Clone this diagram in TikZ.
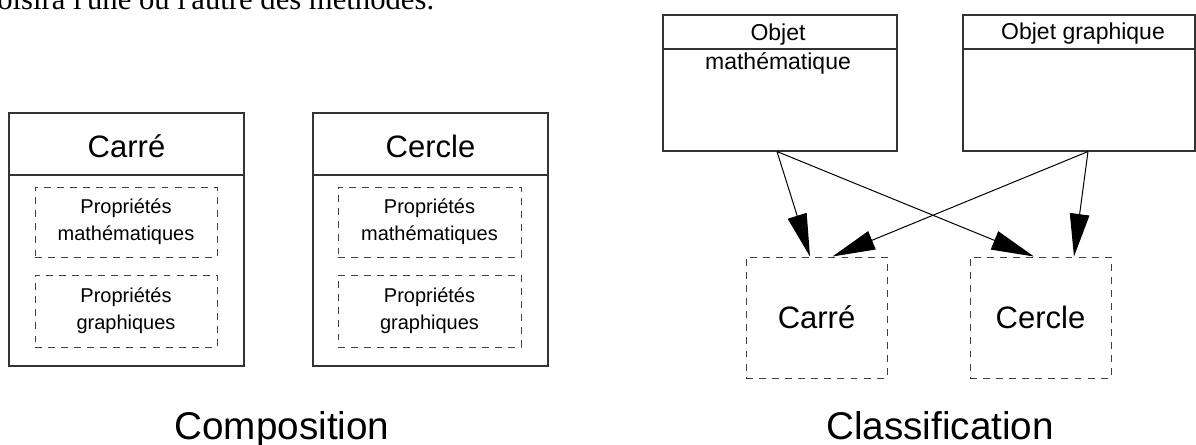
\documentclass[tikz,border=0pt]{standalone}
\usepackage{fontspec}
\setmainfont{Liberation Sans}
\newfontfamily\timesfont{Liberation Serif}
\usetikzlibrary{arrows.meta}
\begin{document}
\begin{tikzpicture}[x=0.75pt,y=-0.75pt,
  classbox/.style={draw=black!80, line width=0.8pt, inner sep=0pt, rectangle},
  propbox/.style={draw=black!75, line width=0.75pt, dash pattern=on 5.2pt off 4.6pt,
    inner sep=0pt, align=center, font=\fontsize{15}{20}\selectfont},
  headline/.style={draw=black!80, line width=0.8pt},
  title/.style={font=\fontsize{23.25}{28}\selectfont, inner sep=0pt, anchor=base},
  smalltitle/.style={font=\fontsize{17.25}{21}\selectfont, inner sep=0pt, anchor=base},
  caption/.style={font=\fontsize{29}{34}\selectfont, inner sep=0pt, anchor=base},
  inherit/.style={-{Triangle[length=32pt,width=14.7pt]}, line width=0.75pt, black},
]
\useasboundingbox (0,0) rectangle (1196,444);

% running text above the figures
\node[font=\timesfont\fontsize{23}{27}\selectfont, inner sep=0pt, anchor=base west]
  (intro) at (-3,9) {oisira l'une ou l'autre des méthodes.};

% ---- Composition ----
\node[classbox, minimum width=176.25pt, minimum height=189.75pt] (carre) at (126.5,239.5) {};
\draw[headline] (carre.west |- 0,175) -- (carre.east |- 0,175);
\node[title] (carret) at (126.5,157) {Carré};
\node[propbox, minimum width=136.5pt, minimum height=52.5pt] (carrem) at (126,222)
  {Propriétés\\mathématiques};
\node[propbox, minimum width=136.5pt, minimum height=54pt] (carreg) at (126,311)
  {Propriétés\\graphiques};

\node[classbox, minimum width=176.25pt, minimum height=189.75pt] (cercle) at (430.5,239.5) {};
\draw[headline] (cercle.west |- 0,175) -- (cercle.east |- 0,175);
\node[title] (cerclet) at (430.5,157) {Cercle};
\node[propbox, minimum width=137.25pt, minimum height=52.5pt] (cerclem) at (429.5,222)
  {Propriétés\\mathématiques};
\node[propbox, minimum width=137.25pt, minimum height=54pt] (cercleg) at (429.5,311)
  {Propriétés\\graphiques};

\node[caption] (compo) at (282,439) {Composition};

% ---- Classification ----
\node[classbox, minimum width=175.5pt, minimum height=102pt] (om) at (780,83) {};
\draw[headline] (om.west |- 0,49) -- (om.east |- 0,49);
\node[smalltitle] (omt1) at (778,40) {Objet};
\node[smalltitle] (omt2) at (778,69) {mathématique};

\node[classbox, minimum width=174pt, minimum height=102pt] (og) at (1079,83) {};
\draw[headline] (og.west |- 0,49) -- (og.east |- 0,49);
\node[smalltitle] (ogt) at (1083,39) {Objet graphique};

\node[propbox, font=\fontsize{23.25}{28}\selectfont,
  minimum width=105.75pt, minimum height=90.75pt] (carreb) at (816.5,317.5) {Carré};
\node[propbox, font=\fontsize{23.25}{28}\selectfont,
  minimum width=105.75pt, minimum height=90.75pt] (cercleb) at (1040.5,317.5) {Cercle};

\draw[inherit] ([xshift=-2.25pt]om.south) -- ([xshift=-4.9pt]carreb.north);
\draw[inherit] ([xshift=-2.25pt]om.south) -- ([xshift=-4.9pt]cercleb.north);
\draw[inherit] ([xshift=6.75pt]og.south) -- ([xshift=12pt]carreb.north);
\draw[inherit] ([xshift=6.75pt]og.south) -- ([xshift=25.1pt]cercleb.north);

\node[caption] (classif) at (940,439) {Classification};
\end{tikzpicture}
\end{document}
